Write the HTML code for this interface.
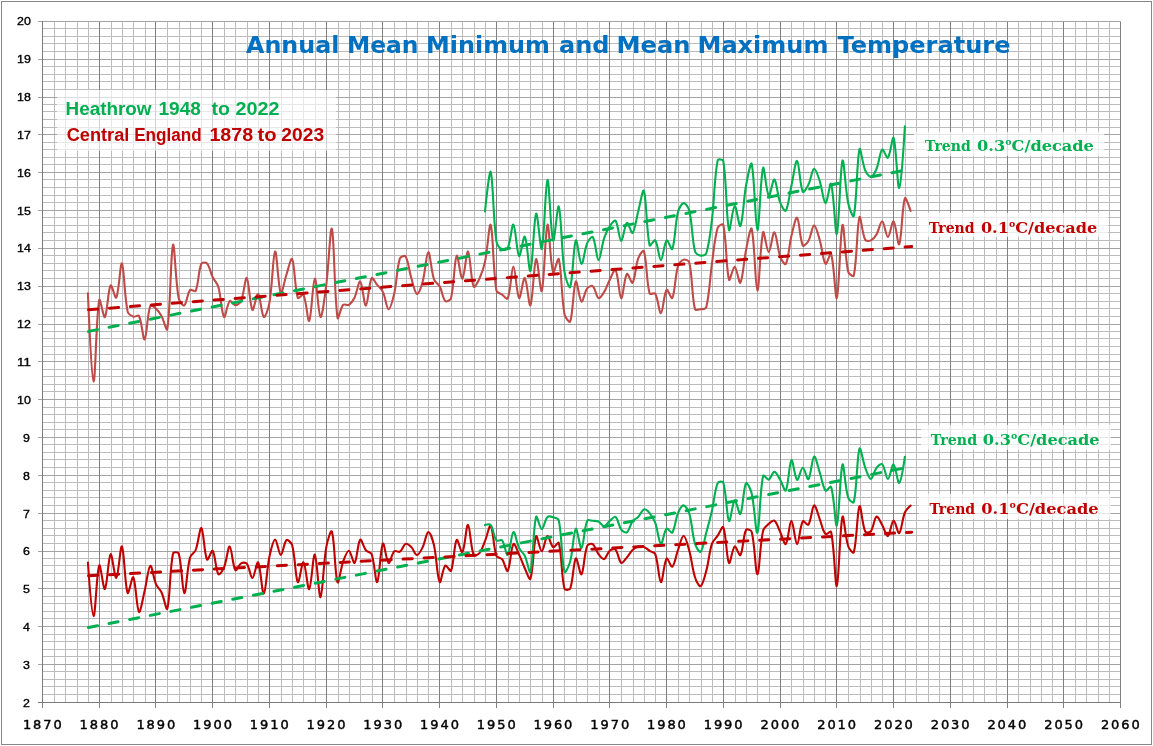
<!DOCTYPE html>
<html lang="en"><head><meta charset="utf-8"><title>Annual Mean Minimum and Mean Maximum Temperature</title>
<style>html,body{margin:0;padding:0;background:#fff}body{width:1153px;height:746px;overflow:hidden}svg{display:block}</style></head>
<body>
<svg width="1153" height="746" viewBox="0 0 1153 746">
<rect x="0" y="0" width="1153" height="746" fill="#fff"/>
<rect x="1.5" y="1.5" width="1150" height="743" fill="none" stroke="#868686" stroke-width="1"/>
<path d="M54.5 21.5V702.5M65.5 21.5V702.5M77.5 21.5V702.5M88.5 21.5V702.5M111.5 21.5V702.5M122.5 21.5V702.5M133.5 21.5V702.5M145.5 21.5V702.5M167.5 21.5V702.5M179.5 21.5V702.5M190.5 21.5V702.5M201.5 21.5V702.5M224.5 21.5V702.5M235.5 21.5V702.5M247.5 21.5V702.5M258.5 21.5V702.5M281.5 21.5V702.5M292.5 21.5V702.5M303.5 21.5V702.5M315.5 21.5V702.5M338.5 21.5V702.5M349.5 21.5V702.5M360.5 21.5V702.5M372.5 21.5V702.5M394.5 21.5V702.5M406.5 21.5V702.5M417.5 21.5V702.5M428.5 21.5V702.5M451.5 21.5V702.5M462.5 21.5V702.5M474.5 21.5V702.5M485.5 21.5V702.5M508.5 21.5V702.5M519.5 21.5V702.5M530.5 21.5V702.5M542.5 21.5V702.5M564.5 21.5V702.5M576.5 21.5V702.5M587.5 21.5V702.5M599.5 21.5V702.5M621.5 21.5V702.5M633.5 21.5V702.5M644.5 21.5V702.5M655.5 21.5V702.5M678.5 21.5V702.5M689.5 21.5V702.5M701.5 21.5V702.5M712.5 21.5V702.5M735.5 21.5V702.5M746.5 21.5V702.5M757.5 21.5V702.5M769.5 21.5V702.5M791.5 21.5V702.5M803.5 21.5V702.5M814.5 21.5V702.5M825.5 21.5V702.5M848.5 21.5V702.5M860.5 21.5V702.5M871.5 21.5V702.5M882.5 21.5V702.5M905.5 21.5V702.5M916.5 21.5V702.5M928.5 21.5V702.5M939.5 21.5V702.5M962.5 21.5V702.5M973.5 21.5V702.5M984.5 21.5V702.5M996.5 21.5V702.5M1018.5 21.5V702.5M1030.5 21.5V702.5M1041.5 21.5V702.5M1052.5 21.5V702.5M1075.5 21.5V702.5M1086.5 21.5V702.5M1098.5 21.5V702.5M1109.5 21.5V702.5M42.5 694.5H1120.5M42.5 686.5H1120.5M42.5 679.5H1120.5M42.5 671.5H1120.5M42.5 656.5H1120.5M42.5 649.5H1120.5M42.5 641.5H1120.5M42.5 634.5H1120.5M42.5 618.5H1120.5M42.5 611.5H1120.5M42.5 603.5H1120.5M42.5 596.5H1120.5M42.5 581.5H1120.5M42.5 573.5H1120.5M42.5 565.5H1120.5M42.5 558.5H1120.5M42.5 543.5H1120.5M42.5 535.5H1120.5M42.5 528.5H1120.5M42.5 520.5H1120.5M42.5 505.5H1120.5M42.5 497.5H1120.5M42.5 490.5H1120.5M42.5 482.5H1120.5M42.5 467.5H1120.5M42.5 459.5H1120.5M42.5 452.5H1120.5M42.5 444.5H1120.5M42.5 429.5H1120.5M42.5 422.5H1120.5M42.5 414.5H1120.5M42.5 407.5H1120.5M42.5 391.5H1120.5M42.5 384.5H1120.5M42.5 376.5H1120.5M42.5 369.5H1120.5M42.5 354.5H1120.5M42.5 346.5H1120.5M42.5 338.5H1120.5M42.5 331.5H1120.5M42.5 316.5H1120.5M42.5 308.5H1120.5M42.5 301.5H1120.5M42.5 293.5H1120.5M42.5 278.5H1120.5M42.5 270.5H1120.5M42.5 263.5H1120.5M42.5 255.5H1120.5M42.5 240.5H1120.5M42.5 232.5H1120.5M42.5 225.5H1120.5M42.5 217.5H1120.5M42.5 202.5H1120.5M42.5 195.5H1120.5M42.5 187.5H1120.5M42.5 179.5H1120.5M42.5 164.5H1120.5M42.5 157.5H1120.5M42.5 149.5H1120.5M42.5 142.5H1120.5M42.5 127.5H1120.5M42.5 119.5H1120.5M42.5 111.5H1120.5M42.5 104.5H1120.5M42.5 89.5H1120.5M42.5 81.5H1120.5M42.5 74.5H1120.5M42.5 66.5H1120.5M42.5 51.5H1120.5M42.5 43.5H1120.5M42.5 36.5H1120.5M42.5 28.5H1120.5" stroke="#bcbcbc" stroke-width="1" fill="none" shape-rendering="crispEdges"/>
<path d="M38.0 702.5H1120.5M38.0 664.5H1120.5M38.0 626.5H1120.5M38.0 588.5H1120.5M38.0 551.5H1120.5M38.0 513.5H1120.5M38.0 475.5H1120.5M38.0 437.5H1120.5M38.0 399.5H1120.5M38.0 361.5H1120.5M38.0 324.5H1120.5M38.0 286.5H1120.5M38.0 248.5H1120.5M38.0 210.5H1120.5M38.0 172.5H1120.5M38.0 134.5H1120.5M38.0 97.5H1120.5M38.0 59.5H1120.5M38.0 21.5H1120.5" stroke="#a3a3a3" stroke-width="1" fill="none" shape-rendering="crispEdges"/>
<path d="M42.5 21.5V707.5M99.5 21.5V707.5M155.5 21.5V707.5M212.5 21.5V707.5M269.5 21.5V707.5M326.5 21.5V707.5M382.5 21.5V707.5M439.5 21.5V707.5M496.5 21.5V707.5M553.5 21.5V707.5M609.5 21.5V707.5M666.5 21.5V707.5M723.5 21.5V707.5M780.5 21.5V707.5M836.5 21.5V707.5M893.5 21.5V707.5M950.5 21.5V707.5M1007.5 21.5V707.5M1063.5 21.5V707.5M1120.5 21.5V707.5" stroke="#808080" stroke-width="1" fill="none" shape-rendering="crispEdges"/>
<path d="M42.5 21.0V703.0M38.0 702.5H1121.0" stroke="#7a7a7a" stroke-width="1" fill="none" shape-rendering="crispEdges"/>
<g font-family="'Liberation Sans', sans-serif" font-size="11.4" fill="#000" stroke="#000" stroke-width="0.35">
<text x="22.9" y="706.9" textLength="6.9" lengthAdjust="spacingAndGlyphs">2</text>
<text x="22.9" y="669.1" textLength="6.9" lengthAdjust="spacingAndGlyphs">3</text>
<text x="22.9" y="631.2" textLength="6.9" lengthAdjust="spacingAndGlyphs">4</text>
<text x="22.9" y="593.3" textLength="6.9" lengthAdjust="spacingAndGlyphs">5</text>
<text x="22.9" y="555.4" textLength="6.9" lengthAdjust="spacingAndGlyphs">6</text>
<text x="22.9" y="517.5" textLength="6.9" lengthAdjust="spacingAndGlyphs">7</text>
<text x="22.9" y="479.7" textLength="6.9" lengthAdjust="spacingAndGlyphs">8</text>
<text x="22.9" y="441.8" textLength="6.9" lengthAdjust="spacingAndGlyphs">9</text>
<text x="17.1" y="403.9" textLength="13.8" lengthAdjust="spacingAndGlyphs">10</text>
<text x="17.1" y="366.0" textLength="13.8" lengthAdjust="spacingAndGlyphs">11</text>
<text x="17.1" y="328.1" textLength="13.8" lengthAdjust="spacingAndGlyphs">12</text>
<text x="17.1" y="290.3" textLength="13.8" lengthAdjust="spacingAndGlyphs">13</text>
<text x="17.1" y="252.4" textLength="13.8" lengthAdjust="spacingAndGlyphs">14</text>
<text x="17.1" y="214.5" textLength="13.8" lengthAdjust="spacingAndGlyphs">15</text>
<text x="17.1" y="176.6" textLength="13.8" lengthAdjust="spacingAndGlyphs">16</text>
<text x="17.1" y="138.7" textLength="13.8" lengthAdjust="spacingAndGlyphs">17</text>
<text x="17.1" y="100.9" textLength="13.8" lengthAdjust="spacingAndGlyphs">18</text>
<text x="17.1" y="63.0" textLength="13.8" lengthAdjust="spacingAndGlyphs">19</text>
<text x="17.1" y="25.1" textLength="13.8" lengthAdjust="spacingAndGlyphs">20</text>
</g>
<g font-family="'DejaVu Sans', 'Liberation Sans', sans-serif" font-size="13" fill="#000" stroke="#000" stroke-width="0.45" text-anchor="middle">
<text x="22.9" y="728.8" text-anchor="start" textLength="38.9" lengthAdjust="spacing">1870</text>
<text x="79.6" y="728.8" text-anchor="start" textLength="38.9" lengthAdjust="spacing">1880</text>
<text x="136.4" y="728.8" text-anchor="start" textLength="38.9" lengthAdjust="spacing">1890</text>
<text x="193.1" y="728.8" text-anchor="start" textLength="38.9" lengthAdjust="spacing">1900</text>
<text x="249.8" y="728.8" text-anchor="start" textLength="38.9" lengthAdjust="spacing">1910</text>
<text x="306.6" y="728.8" text-anchor="start" textLength="38.9" lengthAdjust="spacing">1920</text>
<text x="363.3" y="728.8" text-anchor="start" textLength="38.9" lengthAdjust="spacing">1930</text>
<text x="420.1" y="728.8" text-anchor="start" textLength="38.9" lengthAdjust="spacing">1940</text>
<text x="476.8" y="728.8" text-anchor="start" textLength="38.9" lengthAdjust="spacing">1950</text>
<text x="533.5" y="728.8" text-anchor="start" textLength="38.9" lengthAdjust="spacing">1960</text>
<text x="590.3" y="728.8" text-anchor="start" textLength="38.9" lengthAdjust="spacing">1970</text>
<text x="647.0" y="728.8" text-anchor="start" textLength="38.9" lengthAdjust="spacing">1980</text>
<text x="703.7" y="728.8" text-anchor="start" textLength="38.9" lengthAdjust="spacing">1990</text>
<text x="760.5" y="728.8" text-anchor="start" textLength="38.9" lengthAdjust="spacing">2000</text>
<text x="817.2" y="728.8" text-anchor="start" textLength="38.9" lengthAdjust="spacing">2010</text>
<text x="874.0" y="728.8" text-anchor="start" textLength="38.9" lengthAdjust="spacing">2020</text>
<text x="930.7" y="728.8" text-anchor="start" textLength="38.9" lengthAdjust="spacing">2030</text>
<text x="987.4" y="728.8" text-anchor="start" textLength="38.9" lengthAdjust="spacing">2040</text>
<text x="1044.2" y="728.8" text-anchor="start" textLength="38.9" lengthAdjust="spacing">2050</text>
<text x="1100.9" y="728.8" text-anchor="start" textLength="38.9" lengthAdjust="spacing">2060</text>
</g>
<text y="52.6" font-family="'DejaVu Sans', 'Liberation Sans', sans-serif" font-weight="bold" font-size="23.4" fill="#0070c0"><tspan x="246.0" textLength="93.5" lengthAdjust="spacingAndGlyphs">Annual</tspan> <tspan x="347.0" textLength="71.5" lengthAdjust="spacingAndGlyphs">Mean</tspan> <tspan x="426.0" textLength="124.0" lengthAdjust="spacingAndGlyphs">Minimum</tspan> <tspan x="559.0" textLength="50.5" lengthAdjust="spacingAndGlyphs">and</tspan> <tspan x="616.5" textLength="74.0" lengthAdjust="spacingAndGlyphs">Mean</tspan> <tspan x="697.5" textLength="131.0" lengthAdjust="spacingAndGlyphs">Maximum</tspan> <tspan x="837.5" textLength="173.0" lengthAdjust="spacingAndGlyphs">Temperature</tspan></text>
<path d="M87.9 293.3C87.9 293.3 91.6 380.1 93.6 381.3C95.4 382.4 96.1 317.5 99.2 300.0C99.9 296.1 103.6 318.8 104.9 317.1C107.3 314.0 107.9 290.0 110.6 285.4C111.7 283.4 115.2 299.6 116.3 297.6C119.0 292.3 120.4 261.5 121.9 263.4C124.1 266.1 124.3 296.1 127.6 311.4C128.1 313.8 131.1 315.7 133.3 316.6C134.9 317.3 138.2 314.6 139.0 316.0C142.0 322.2 143.1 340.8 144.6 339.4C146.8 337.5 147.1 314.7 150.3 306.0C150.9 304.4 154.5 307.3 156.0 308.6C158.3 310.7 160.1 313.5 161.6 316.3C163.9 320.4 166.8 332.5 167.3 329.1C170.6 308.7 170.7 251.1 173.0 244.8C174.5 240.8 175.4 280.9 178.7 298.2C179.2 301.1 183.0 306.4 184.3 305.4C186.8 303.7 187.2 293.7 190.0 290.1C191.0 288.8 195.0 292.3 195.7 290.8C198.8 283.5 198.2 271.3 201.4 263.7C202.0 262.2 206.0 262.1 207.0 263.3C209.8 266.6 210.5 272.7 212.7 277.3C214.3 280.6 217.4 283.4 218.4 287.0C221.1 296.7 221.6 314.0 224.1 317.0C225.4 318.7 227.1 303.9 229.7 301.1C230.8 300.0 233.5 305.2 235.4 305.1C237.3 305.1 240.2 303.0 241.1 301.0C244.0 294.0 245.2 276.8 246.8 278.0C248.9 279.7 249.9 306.4 252.4 309.9C253.7 311.7 256.5 293.0 258.1 294.0C260.3 295.4 261.5 315.0 263.8 316.9C265.2 318.1 268.6 307.9 269.4 303.1C272.4 286.1 273.0 253.3 275.1 251.5C276.8 250.0 278.2 287.8 280.8 293.1C282.0 295.5 284.4 280.6 286.5 274.5C288.2 269.3 291.0 256.7 292.1 259.0C294.8 264.5 294.6 287.6 297.8 297.9C298.3 299.6 302.8 293.4 303.5 294.9C306.5 301.1 307.7 322.8 309.2 320.8C311.5 317.4 312.9 279.3 314.8 278.7C316.6 278.1 318.4 315.7 320.5 317.0C322.2 318.0 324.8 296.2 326.2 285.6C328.6 266.8 330.4 224.6 331.9 228.8C334.2 235.3 334.3 295.9 337.5 317.8C338.1 321.3 340.5 307.9 343.2 304.8C344.3 303.6 347.5 305.8 348.9 304.9C351.2 303.4 353.2 300.2 354.6 297.5C357.0 292.4 358.7 280.4 360.2 281.5C362.5 283.1 364.1 306.1 365.9 305.6C367.9 305.0 368.7 283.5 371.6 278.2C372.5 276.6 375.4 282.7 377.2 284.9C379.2 287.2 381.7 289.2 382.9 291.9C385.5 297.4 386.6 309.1 388.6 309.3C390.4 309.5 393.0 298.8 394.3 293.3C396.8 281.8 396.7 268.9 399.9 258.4C400.5 256.7 404.8 255.1 405.6 256.5C408.6 261.6 409.1 270.9 411.3 278.0C412.9 283.4 414.8 293.2 417.0 294.0C418.6 294.6 421.5 286.3 422.6 282.1C425.3 272.4 426.3 252.7 428.3 252.2C430.1 251.7 431.1 270.8 434.0 279.4C434.9 282.1 438.3 283.7 439.7 286.3C442.1 290.9 442.6 298.2 445.3 301.1C446.4 302.2 450.5 300.1 451.0 298.2C454.3 285.0 454.2 260.0 456.7 255.8C458.0 253.5 460.6 279.3 462.4 278.7C464.4 277.9 466.4 250.3 468.0 251.5C470.2 253.0 470.7 279.6 473.7 286.7C474.5 288.6 478.0 281.6 479.4 278.7C481.8 273.4 483.8 267.7 485.0 261.9C487.6 249.7 489.3 221.4 490.7 224.9C493.1 230.9 493.0 269.5 496.4 290.5C496.8 292.8 500.1 293.3 502.1 294.7C503.9 296.0 507.1 300.1 507.7 298.5C510.9 290.7 511.5 266.6 513.4 266.5C515.3 266.5 516.8 295.8 519.1 298.1C520.6 299.6 523.1 276.9 524.8 278.0C526.9 279.4 529.0 307.8 530.4 305.4C532.8 301.5 533.9 262.0 536.1 259.2C537.7 257.2 540.5 294.7 541.8 290.9C544.3 283.2 545.3 228.3 547.5 224.7C549.0 222.0 550.2 263.3 553.1 272.1C554.0 274.8 558.0 256.1 558.8 259.0C561.8 270.1 561.2 296.3 564.5 314.2C565.0 317.2 569.4 323.5 570.2 321.5C573.2 312.6 573.3 286.0 575.8 281.6C577.1 279.4 579.3 300.3 581.5 301.6C583.0 302.5 584.5 292.0 587.2 288.4C588.3 286.9 591.7 285.2 592.8 286.2C595.4 288.4 596.2 296.9 598.5 298.1C600.0 298.8 602.8 294.3 604.2 291.9C606.5 288.0 607.8 283.4 609.9 279.4C611.6 276.1 614.5 268.1 615.5 269.8C618.3 274.4 619.2 297.4 621.2 298.2C623.0 298.8 624.2 277.5 626.9 273.9C628.0 272.4 631.4 284.2 632.6 282.7C635.2 279.1 635.5 266.1 638.2 258.4C639.3 255.6 643.2 249.1 643.9 251.2C647.0 260.8 646.2 280.9 649.6 293.4C650.0 295.1 654.4 292.3 655.3 293.7C658.2 298.8 659.2 313.7 660.9 313.1C663.0 312.4 663.9 293.5 666.6 289.9C667.7 288.5 671.4 299.8 672.3 298.0C675.2 291.9 675.0 276.2 678.0 266.1C678.7 263.4 681.4 260.4 683.6 259.7C685.2 259.2 688.9 260.4 689.3 262.4C692.6 276.9 691.6 295.2 695.0 309.2C695.4 310.8 698.8 309.6 700.6 309.3C702.6 309.0 705.9 309.1 706.3 307.2C709.6 293.7 709.9 277.9 712.0 263.3C713.7 251.4 714.5 238.6 717.7 227.8C718.2 225.8 723.0 223.0 723.3 224.8C726.7 240.4 726.0 268.6 729.0 279.7C729.8 282.6 733.0 266.3 734.7 266.8C736.7 267.3 739.1 284.5 740.4 282.7C742.9 279.0 743.8 260.8 746.0 250.1C747.5 242.9 750.7 225.4 751.7 228.9C754.5 238.9 755.4 290.0 757.4 290.6C759.2 291.1 760.3 241.7 763.1 232.2C764.0 228.9 766.8 252.1 768.7 252.1C770.6 252.2 772.7 231.7 774.4 232.3C776.5 233.1 777.4 248.7 780.1 256.3C781.1 259.3 784.8 265.7 785.8 264.0C788.6 258.9 789.2 245.3 791.4 236.1C792.9 229.9 795.6 216.5 797.1 217.8C799.4 219.7 799.8 239.4 802.8 245.5C803.5 247.1 807.3 243.0 808.4 241.0C811.1 236.3 812.2 225.5 814.1 225.4C816.0 225.3 818.3 235.2 819.8 240.3C822.1 248.0 822.9 260.8 825.5 263.9C826.7 265.3 830.4 251.4 831.1 253.8C834.1 262.8 835.4 301.5 836.8 297.9C839.2 292.0 840.2 230.4 842.5 225.1C844.0 221.6 844.9 257.0 848.2 271.7C848.6 273.8 853.4 277.5 853.8 275.6C857.2 259.3 856.8 225.8 859.5 217.2C860.6 213.8 862.1 233.6 865.2 239.8C865.9 241.3 869.3 241.1 870.9 240.4C873.1 239.4 875.2 236.9 876.5 234.6C878.9 230.5 880.4 221.0 882.2 221.3C884.2 221.7 886.0 236.9 887.9 236.9C889.8 236.9 892.0 220.3 893.6 221.3C895.8 222.8 897.9 246.9 899.2 244.3C901.7 239.2 902.0 206.8 904.9 198.3C905.8 195.8 910.6 211.0 910.6 211.0" stroke="#be4b48" stroke-width="2.1" fill="none" stroke-linejoin="round" stroke-linecap="round"/>
<path d="M87.9 562.5C87.9 562.5 91.6 615.4 93.6 615.9C95.4 616.4 96.7 571.6 99.2 565.5C100.5 562.6 103.4 590.5 104.9 589.0C107.2 586.7 108.3 556.4 110.6 554.2C112.1 552.7 114.6 578.9 116.3 577.8C118.4 576.4 120.4 544.5 121.9 546.5C124.2 549.5 124.8 585.4 127.6 592.9C128.6 595.6 132.1 575.3 133.3 577.3C135.8 581.6 136.6 609.0 139.0 611.9C140.4 613.6 142.9 598.0 144.6 591.1C146.7 582.7 148.1 567.1 150.3 565.8C151.9 564.8 153.5 578.3 156.0 584.1C157.3 587.2 160.3 589.4 161.6 592.5C164.0 597.7 166.4 611.8 167.3 608.8C170.2 598.8 169.6 570.2 173.0 553.5C173.3 551.7 178.2 551.8 178.7 553.5C182.0 565.0 182.3 592.4 184.3 593.2C186.1 593.8 187.0 569.0 190.0 557.6C190.8 554.6 194.6 552.9 195.7 550.0C198.3 543.1 199.8 526.8 201.4 528.1C203.6 530.0 204.2 553.9 207.0 559.5C208.0 561.4 211.6 549.3 212.7 550.8C215.3 554.2 215.6 570.1 218.4 574.1C219.4 575.6 223.0 570.1 224.1 567.4C226.7 560.8 228.0 546.0 229.7 546.5C231.7 547.0 232.6 566.2 235.4 570.2C236.4 571.7 238.8 564.6 241.1 563.3C242.5 562.4 245.7 562.3 246.8 563.7C249.5 567.3 250.6 578.2 252.4 578.0C254.4 577.8 256.8 560.6 258.1 562.4C260.6 565.8 262.0 594.5 263.8 593.6C265.8 592.6 266.9 568.8 269.4 556.7C270.7 550.8 273.1 539.9 275.1 539.5C276.9 539.3 278.9 554.8 280.8 554.9C282.7 555.0 283.9 542.4 286.5 540.1C287.7 539.1 291.5 542.8 292.1 545.1C295.3 556.7 295.4 578.4 297.8 582.1C299.2 584.1 301.9 561.2 303.5 562.3C305.7 563.6 307.5 590.3 309.2 589.2C311.3 587.7 313.1 553.4 314.8 554.6C316.9 556.1 318.8 598.2 320.5 597.1C322.5 595.9 323.4 563.9 326.2 547.6C327.1 542.1 330.9 528.7 331.9 531.6C334.7 540.2 334.9 575.2 337.5 582.2C338.7 585.1 340.8 568.0 343.2 561.3C344.6 557.5 347.1 550.5 348.9 550.7C350.9 551.0 353.2 564.2 354.6 562.9C357.0 560.5 357.7 542.4 360.2 539.7C361.5 538.3 363.5 547.3 365.9 550.4C367.2 552.1 370.9 552.0 371.6 554.0C374.6 562.6 375.6 583.6 377.2 582.1C379.4 580.1 380.4 547.8 382.9 543.6C384.2 541.4 386.3 561.4 388.6 562.9C390.1 563.9 391.6 553.8 394.3 551.2C395.4 550.0 398.5 552.6 399.9 551.7C402.3 550.1 403.4 544.8 405.6 543.9C407.1 543.2 409.8 545.6 411.3 547.1C413.6 549.3 415.0 555.0 417.0 555.0C418.8 555.1 421.2 550.2 422.6 547.4C425.0 542.5 426.3 532.4 428.3 532.1C430.1 531.7 432.9 540.6 434.0 545.3C436.7 557.3 437.1 577.4 439.7 582.0C440.9 584.2 442.7 568.2 445.3 565.6C446.5 564.5 450.3 572.5 451.0 570.8C454.0 564.0 454.0 544.2 456.7 539.9C457.8 538.0 461.1 553.8 462.4 552.1C464.9 548.8 466.2 524.3 468.0 524.8C470.0 525.3 470.5 547.3 473.7 555.2C474.3 556.7 478.2 554.7 479.4 553.2C482.0 550.0 483.3 545.2 485.0 541.1C487.1 536.1 489.4 524.2 490.7 525.9C493.2 529.1 493.3 546.6 496.4 555.8C497.1 557.7 500.8 557.5 502.1 559.2C504.6 562.6 506.5 572.6 507.7 570.9C510.3 567.5 510.8 547.7 513.4 544.0C514.6 542.3 517.4 551.0 519.1 554.6C521.2 559.1 522.7 563.8 524.8 568.3C526.5 571.9 529.6 581.1 530.4 578.8C533.4 570.4 533.4 542.9 536.1 536.2C537.1 533.7 539.9 551.3 541.8 551.3C543.7 551.3 545.3 536.7 547.5 536.0C549.1 535.4 550.7 545.7 553.1 547.2C554.5 548.0 558.3 541.1 558.8 543.0C562.1 555.0 561.1 575.1 564.5 588.7C564.9 590.3 569.6 590.2 570.2 588.7C573.3 580.2 573.4 561.6 575.8 558.5C577.2 556.8 580.1 575.9 581.5 574.4C583.9 571.7 584.0 554.2 587.2 545.9C587.8 544.2 591.6 543.2 592.8 544.1C595.3 546.0 596.2 551.2 598.5 554.2C600.0 556.2 602.6 559.6 604.2 559.1C606.4 558.3 607.4 552.5 609.9 550.5C611.2 549.3 614.5 548.5 615.5 549.6C618.2 552.6 618.8 561.2 621.2 562.9C622.6 563.8 625.2 559.4 626.9 557.4C628.9 555.1 630.4 552.2 632.6 550.0C634.1 548.5 636.2 547.2 638.2 546.6C640.0 546.1 642.2 546.2 643.9 546.9C646.0 547.6 647.7 549.5 649.6 550.8C651.4 552.0 654.5 552.2 655.3 554.2C658.3 562.7 658.9 581.3 660.9 582.1C662.7 582.8 663.9 562.2 666.6 558.5C667.7 557.1 670.9 567.7 672.3 566.7C674.7 564.9 675.9 555.6 678.0 550.0C679.7 545.2 681.8 535.6 683.6 535.7C685.6 535.8 687.9 545.6 689.3 550.8C691.7 559.4 692.3 568.7 695.0 577.2C696.0 580.6 699.2 587.1 700.6 586.2C702.9 584.9 704.9 576.1 706.3 570.8C708.7 561.9 709.2 552.3 712.0 543.7C713.0 540.6 715.8 538.4 717.7 535.7C719.6 532.9 722.5 525.3 723.3 527.3C726.3 534.4 726.5 558.7 729.0 563.0C730.2 565.1 732.3 548.2 734.7 546.5C736.1 545.5 739.3 556.7 740.4 555.1C743.1 551.2 743.0 536.3 746.0 530.0C746.7 528.6 751.3 530.0 751.7 531.8C755.0 544.8 755.5 574.5 757.4 574.3C759.3 574.2 759.9 544.8 763.1 530.8C763.7 528.0 766.5 525.9 768.7 523.9C770.3 522.4 773.1 519.6 774.4 520.6C776.9 522.3 778.2 528.0 780.1 531.8C782.0 535.8 784.4 545.3 785.8 544.0C788.2 541.6 789.5 520.9 791.4 520.9C793.3 521.0 795.2 544.0 797.1 544.1C799.0 544.1 799.8 526.2 802.8 521.2C803.6 519.7 807.5 526.0 808.4 524.7C811.3 520.7 812.0 506.4 814.1 505.4C815.7 504.6 818.0 514.6 819.8 519.3C821.7 524.2 822.7 531.1 825.5 534.1C826.5 535.3 830.8 530.1 831.1 531.9C834.5 547.4 835.2 588.1 836.8 585.9C838.9 583.1 839.8 526.1 842.5 516.9C843.6 512.9 845.2 536.9 848.2 546.2C849.0 548.7 853.3 554.3 853.8 552.3C857.0 541.0 857.1 510.7 859.5 506.2C860.9 503.7 862.1 524.6 865.2 531.5C865.9 533.0 869.8 532.6 870.9 531.3C873.6 527.7 874.2 518.0 876.5 516.7C878.0 515.9 880.5 522.1 882.2 525.0C884.3 528.6 886.3 536.8 887.9 536.1C890.0 535.3 891.5 521.1 893.6 520.6C895.3 520.1 897.7 534.1 899.2 533.1C901.5 531.4 902.2 518.9 904.9 512.5C906.0 509.8 910.6 505.5 910.6 505.5" stroke="#c00000" stroke-width="2.1" fill="none" stroke-linejoin="round" stroke-linecap="round"/>
<path d="M485.0 211.4C485.0 211.4 489.3 168.3 490.7 171.9C493.1 178.3 493.1 218.8 496.4 241.4C496.9 244.6 499.7 248.0 502.1 249.4C503.5 250.2 507.0 249.7 507.7 248.1C510.8 241.5 511.8 223.6 513.4 224.7C515.6 226.2 516.8 253.6 519.1 256.0C520.6 257.5 523.4 234.8 524.8 236.6C527.2 239.7 529.0 273.7 530.4 270.8C532.8 266.0 533.8 218.2 536.1 213.6C537.6 210.8 540.5 252.7 541.8 248.8C544.3 241.4 545.4 181.3 547.5 179.8C549.2 178.5 550.7 234.9 553.1 240.5C554.5 243.8 557.5 202.9 558.8 206.5C561.3 213.4 561.4 250.5 564.5 272.1C565.2 277.3 569.2 289.7 570.2 287.0C573.0 279.2 573.3 245.6 575.8 240.5C577.1 237.9 579.5 263.5 581.5 264.0C583.3 264.4 584.4 249.6 587.2 243.1C588.2 240.6 591.9 235.7 592.8 237.2C595.7 241.4 596.6 260.0 598.5 260.1C600.4 260.2 601.8 245.1 604.2 237.9C605.6 233.8 607.5 229.7 609.9 226.1C611.3 223.9 614.5 219.4 615.5 220.7C618.3 224.4 619.2 240.6 621.2 241.0C623.0 241.3 624.5 224.5 626.9 222.8C628.3 221.8 631.3 234.3 632.6 233.0C635.0 230.5 636.3 218.6 638.2 211.4C640.1 204.6 642.8 187.8 643.9 190.9C646.6 199.0 646.3 230.8 649.6 245.3C650.0 247.3 654.2 239.1 655.3 240.4C658.0 244.0 659.0 260.1 660.9 260.1C662.8 260.1 664.1 242.9 666.6 240.4C667.9 239.2 671.5 251.0 672.3 249.0C675.2 241.6 675.0 224.0 678.0 212.1C678.8 208.7 681.6 203.3 683.6 203.1C685.4 202.9 688.6 207.7 689.3 210.8C692.4 223.7 691.8 238.5 695.0 251.2C695.5 253.4 698.6 255.2 700.6 255.6C702.4 255.9 705.8 255.1 706.3 253.3C709.5 243.0 710.6 230.6 712.0 219.2C714.4 199.7 714.2 178.0 717.7 160.4C718.0 158.7 723.1 159.3 723.3 161.1C726.8 182.5 726.2 219.0 729.0 230.0C730.0 233.9 732.6 206.7 734.7 206.0C736.4 205.4 739.1 228.3 740.4 226.0C742.9 221.6 743.6 199.1 746.0 185.8C747.4 178.4 750.8 160.2 751.7 163.9C754.5 175.0 755.4 229.4 757.4 230.1C759.2 230.7 760.5 175.8 763.1 167.9C764.2 164.4 766.4 193.3 768.7 195.7C770.2 197.2 772.8 178.5 774.4 179.5C776.6 180.8 777.4 195.2 780.1 202.5C781.2 205.5 784.7 212.2 785.8 210.6C788.5 206.6 789.5 194.0 791.4 185.8C793.3 177.5 795.4 160.0 797.1 160.9C799.2 162.0 799.8 185.6 802.8 191.7C803.6 193.5 807.1 187.3 808.4 184.6C810.9 179.7 812.0 169.4 814.1 168.8C815.8 168.3 818.4 177.0 819.8 181.3C822.1 188.4 823.5 202.7 825.5 203.2C827.2 203.6 830.1 181.0 831.1 183.9C833.8 191.2 835.3 237.0 836.8 233.9C839.1 229.3 840.1 167.1 842.5 160.7C843.9 156.9 845.3 189.3 848.2 203.2C849.1 207.7 853.2 219.0 853.8 215.9C857.0 201.0 856.7 160.8 859.5 149.3C860.4 145.6 862.5 163.8 865.2 170.4C866.2 172.9 869.1 176.9 870.9 176.7C872.9 176.4 875.3 171.9 876.5 169.0C879.1 162.9 879.7 152.1 882.2 149.6C883.5 148.3 886.6 159.0 887.9 157.7C890.4 155.1 892.5 135.0 893.6 137.9C896.2 145.0 897.5 189.7 899.2 187.9C901.3 185.8 904.9 126.3 904.9 126.3" stroke="#00b050" stroke-width="2.1" fill="none" stroke-linejoin="round" stroke-linecap="round"/>
<path d="M485.0 525.1C485.0 525.1 489.8 523.6 490.7 524.9C493.5 528.7 493.6 536.6 496.4 540.4C497.4 541.7 501.1 539.1 502.1 540.4C504.8 544.0 506.2 556.1 507.7 555.0C510.0 553.3 511.2 533.4 513.4 532.1C515.0 531.1 516.7 543.0 519.1 548.1C520.5 550.9 523.4 552.9 524.8 555.8C527.2 560.8 529.5 574.8 530.4 571.8C533.3 561.8 533.1 528.3 536.1 516.8C536.9 514.0 539.9 529.0 541.8 529.0C543.7 529.0 544.8 519.8 547.5 517.0C548.6 515.8 551.4 516.6 553.1 517.2C555.2 517.8 558.4 518.3 558.8 520.4C562.2 536.6 561.4 560.7 564.5 571.9C565.2 574.5 569.2 565.4 570.2 561.6C572.9 551.0 573.5 531.7 575.8 528.8C577.2 527.1 579.9 549.1 581.5 548.0C583.7 546.4 584.0 528.3 587.2 520.8C587.8 519.2 591.0 520.7 592.8 520.8C594.7 520.9 596.9 520.7 598.5 521.5C600.7 522.5 602.4 526.5 604.2 526.4C606.1 526.2 607.8 522.5 609.9 520.8C611.6 519.3 614.3 515.8 615.5 516.8C618.1 518.7 618.6 526.0 621.2 529.6C622.4 531.2 625.6 533.3 626.9 532.4C629.4 530.6 630.2 524.5 632.6 521.2C633.9 519.3 636.6 518.6 638.2 516.9C640.4 514.7 641.7 510.2 643.9 509.4C645.5 508.9 648.2 511.4 649.6 513.1C651.9 515.9 654.0 519.4 655.3 522.9C657.7 529.6 658.8 542.7 660.9 543.8C662.6 544.6 663.9 531.2 666.6 528.6C667.7 527.5 671.3 533.8 672.3 532.5C675.1 528.6 675.4 519.2 678.0 513.1C679.2 510.2 681.8 505.4 683.6 505.4C685.6 505.5 688.4 510.4 689.3 513.5C692.2 523.2 692.1 534.1 695.0 543.8C695.9 546.8 699.4 552.9 700.6 551.7C703.2 549.2 704.6 539.0 706.3 532.6C708.3 525.3 710.3 517.9 712.0 510.5C714.1 501.4 714.5 490.8 717.7 483.1C718.3 481.5 722.9 481.0 723.3 482.7C726.6 493.7 726.6 517.1 729.0 521.0C730.4 523.1 732.5 501.9 734.7 500.5C736.2 499.6 739.2 515.8 740.4 514.0C742.9 510.1 743.3 488.3 746.0 483.3C747.1 481.5 750.8 489.8 751.7 493.5C754.6 506.2 755.8 535.1 757.4 532.7C759.6 529.2 759.7 491.6 763.1 475.8C763.5 473.9 767.2 480.1 768.7 479.6C770.9 478.8 772.5 471.9 774.4 471.9C776.3 471.9 778.4 476.9 780.1 479.6C782.2 483.1 784.7 492.4 785.8 490.5C788.5 485.9 789.2 462.3 791.4 460.2C792.9 458.7 794.8 478.3 797.1 479.8C798.6 480.8 800.8 467.9 802.8 467.8C804.6 467.7 807.1 480.5 808.4 479.2C810.9 476.8 811.9 457.9 814.1 456.6C815.7 455.7 818.0 467.3 819.8 472.6C821.8 478.6 822.7 487.1 825.5 490.6C826.5 491.9 830.6 485.1 831.1 486.9C834.4 496.7 835.3 528.3 836.8 525.4C839.1 520.9 840.1 470.5 842.5 464.5C843.8 461.3 845.0 487.4 848.2 497.7C848.8 499.9 853.4 504.0 853.8 502.1C857.2 487.7 856.7 457.0 859.5 448.6C860.5 445.5 862.9 461.4 865.2 467.6C866.7 471.6 868.9 479.0 870.9 479.0C872.7 479.1 874.1 471.1 876.5 467.9C877.9 466.1 881.1 463.1 882.2 464.2C884.9 466.8 886.0 479.0 887.9 479.0C889.8 479.1 891.9 463.8 893.6 464.4C895.6 465.1 897.6 484.0 899.2 482.9C901.4 481.4 904.9 456.7 904.9 456.7" stroke="#00b050" stroke-width="2.1" fill="none" stroke-linejoin="round" stroke-linecap="round"/>
<path d="M87.9 331.5L904.9 170.2" stroke="#00b050" stroke-width="3" stroke-dasharray="9.2 11.8" stroke-dashoffset="-0.6" stroke-linecap="round" fill="none"/>
<path d="M87.9 309.8L911.7 246.6" stroke="#c00000" stroke-width="3" stroke-dasharray="9.2 11.8" stroke-dashoffset="-0.6" stroke-linecap="round" fill="none"/>
<path d="M87.9 627.6L904.9 467.9" stroke="#00b050" stroke-width="3" stroke-dasharray="9.2 11.8" stroke-dashoffset="-0.6" stroke-linecap="round" fill="none"/>
<path d="M87.9 575.8L911.7 532.2" stroke="#c00000" stroke-width="3" stroke-dasharray="9.2 11.8" stroke-dashoffset="-0.6" stroke-linecap="round" fill="none"/>
<rect x="57.1" y="90" width="279.0" height="60.8" fill="#fff" fill-opacity="0.64"/>
<g font-family="'Liberation Sans', sans-serif" font-weight="bold" font-size="17.5">
<text y="114.7" fill="#00b050"><tspan x="65.5" textLength="86.0" lengthAdjust="spacingAndGlyphs">Heathrow</tspan> <tspan x="158.5" textLength="42.5" lengthAdjust="spacingAndGlyphs">1948</tspan>  <tspan x="211.5" textLength="18.5" lengthAdjust="spacingAndGlyphs">to</tspan> <tspan x="235.5" textLength="44.0" lengthAdjust="spacingAndGlyphs">2022</tspan></text>
<text y="140.7" fill="#c00000"><tspan x="66.7" textLength="62.6" lengthAdjust="spacingAndGlyphs">Central</tspan> <tspan x="134.2" textLength="67.5" lengthAdjust="spacingAndGlyphs">England</tspan>  <tspan x="209.4" textLength="43.8" lengthAdjust="spacingAndGlyphs">1878</tspan> <tspan x="257.6" textLength="19.1" lengthAdjust="spacingAndGlyphs">to</tspan> <tspan x="281.3" textLength="42.8" lengthAdjust="spacingAndGlyphs">2023</tspan></text>
</g>
<rect x="913.9" y="131.8" width="190.1" height="24.1" fill="#fff" fill-opacity="0.73"/>
<rect x="918.8" y="212.9" width="189.4" height="24.0" fill="#fff" fill-opacity="0.73"/>
<rect x="921" y="424.8" width="189.9" height="25.0" fill="#fff" fill-opacity="0.73"/>
<rect x="918.8" y="493.6" width="191.7" height="25.4" fill="#fff" fill-opacity="0.73"/>
<g font-family="'DejaVu Serif', 'Liberation Serif', serif" font-weight="bold" font-size="15.1">
<text y="150.8" fill="#00b050"><tspan x="925.0" textLength="45.8" lengthAdjust="spacingAndGlyphs">Trend</tspan> <tspan x="977.1" textLength="116.8" lengthAdjust="spacingAndGlyphs">0.3<tspan font-family="Liberation Serif" font-size="18" dy="1.2">º</tspan><tspan dy="-1.2">C/decade</tspan></tspan></text>
<text y="233.0" fill="#c00000"><tspan x="928.9" textLength="45.7" lengthAdjust="spacingAndGlyphs">Trend</tspan> <tspan x="980.9" textLength="116.4" lengthAdjust="spacingAndGlyphs">0.1<tspan font-family="Liberation Serif" font-size="18" dy="1.2">º</tspan><tspan dy="-1.2">C/decade</tspan></tspan></text>
<text y="444.8" fill="#00b050"><tspan x="930.8" textLength="46.3" lengthAdjust="spacingAndGlyphs">Trend</tspan> <tspan x="982.8" textLength="116.8" lengthAdjust="spacingAndGlyphs">0.3<tspan font-family="Liberation Serif" font-size="18" dy="1.2">º</tspan><tspan dy="-1.2">C/decade</tspan></tspan></text>
<text y="513.9" fill="#c00000"><tspan x="929.4" textLength="45.8" lengthAdjust="spacingAndGlyphs">Trend</tspan> <tspan x="981.3" textLength="117.4" lengthAdjust="spacingAndGlyphs">0.1<tspan font-family="Liberation Serif" font-size="18" dy="1.2">º</tspan><tspan dy="-1.2">C/decade</tspan></tspan></text>
</g>
</svg>
</body></html>
